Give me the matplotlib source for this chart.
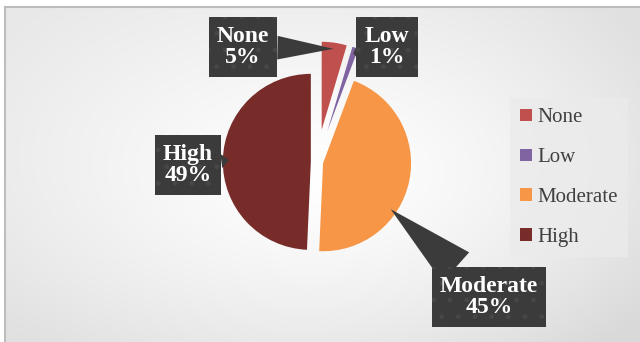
import numpy as np
import matplotlib
matplotlib.use("Agg")
import matplotlib.pyplot as plt

# data (labels show rounded percentages)
categories = ["None", "Low", "Moderate", "High"]
shares = [4.6, 1.1, 45.0, 49.3]
colors = ["#C0504D", "#8064A2", "#F79646", "#772C2A"]
explode = [0.37, 0.37, 0.07, 0.07]

# callout boxes: centre in pixels (from top-left), where along the slice the pointer goes, pointer width
label_pos = [(243, 47), (387, 47), (489, 297), (188, 165)]
tip_frac = [0.5, 0.5, 0.36, 0.5]
tip_width = [1.0, 0.45, 1.7, 0.6]

W, H = 640, 342
fig = plt.figure(figsize=(W / 100, H / 100), dpi=100)

# background: white centre fading to grey at the edges
bg = fig.add_axes([0, 0, 1, 1])
yy, xx = np.mgrid[0:H, 0:W] + 0.5
rad = np.clip(np.sqrt(((xx - 320) / 400) ** 2 + ((yy - 175) / 235) ** 2), 0, 1)
diag = ((xx / W) + (yy / H)) - 1
shade = rad ** 1.3 * (30 + 8 * diag) / 255
img = np.ones((H, W, 3)) * (1 - shade)[..., None]
img[(xx < 5) | (yy < 6.5)] = 1.0
bg.imshow(img, extent=(0, W, H, 0), interpolation="bilinear")
bg.plot([5, 5], [H, 6.5], color="#BDBDBD", lw=1.5)
bg.plot([5, W], [6.5, 6.5], color="#BDBDBD", lw=1.5)
bg.set_xlim(0, W)
bg.set_ylim(H, 0)
bg.axis("off")

# pie
cx, cy, r_px, half = 317, 162, 88, 150
ax = fig.add_axes([(cx - half) / W, (H - cy - half) / H, 2 * half / W, 2 * half / H])
wedges, _ = ax.pie(shares, colors=colors, explode=explode, startangle=90,
                   counterclock=False, radius=1)
lim = half / r_px
ax.set_xlim(-lim, lim)
ax.set_ylim(-lim, lim)
ax.patch.set_visible(False)

for w, name, v, (px, py), f, tw in zip(wedges, categories, shares, label_pos, tip_frac, tip_width):
    ang = np.deg2rad(w.theta1 + f * (w.theta2 - w.theta1))
    tip = (w.center[0] + 0.93 * w.r * np.cos(ang), w.center[1] + 0.93 * w.r * np.sin(ang))
    ax.annotate(f"{name}\n{v:.0f}%", xy=tip, xytext=(px, H - py), textcoords="figure pixels",
                ha="center", va="center", fontsize=17, fontweight="bold",
                family="Liberation Serif", color="white", linespacing=1.05,
                annotation_clip=False,
                bbox=dict(boxstyle="square,pad=0.35", fc="#3B3B3B", ec="#474747",
                          lw=0, hatch="."),
                arrowprops=dict(arrowstyle=f"wedge,tail_width={tw},shrink_factor=0.5",
                                fc="#3B3B3B", ec="none", shrinkA=0, shrinkB=0))

fig.legend(wedges, categories, loc="upper left", bbox_to_anchor=(510 / W, 1 - 98 / H),
           prop=dict(family="Liberation Serif", size=15), labelcolor="#404040",
           frameon=True, facecolor="#EBEBEB", edgecolor="none", fancybox=False,
           framealpha=0.8, handlelength=0.55, handleheight=0.55, handletextpad=0.25,
           labelspacing=1.0, borderpad=0.5, borderaxespad=0)

fig.savefig("out.png", dpi=100)
